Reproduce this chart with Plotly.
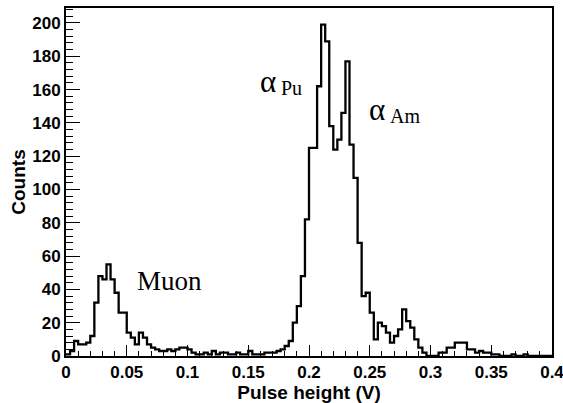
import numpy as np
import plotly.graph_objects as go

# Histogram binning: 120 bins over 0 - 0.4 V
x_min = 0.0
x_max = 0.4
n_bins = 120

# Counts per bin, left to right
counts = [
    1, 3, 9, 7, 7, 8, 12, 32, 48, 46,
    55, 46, 38, 26, 26, 14, 11, 7, 14, 11,
    7, 5, 4, 3, 3, 4, 3, 4, 5, 5,
    4, 2, 1, 1, 2, 1, 3, 1, 2, 2,
    1, 1, 2, 1, 1, 3, 1, 1, 1, 2,
    2, 2, 3, 4, 6, 9, 20, 30, 48, 82,
    125, 125, 162, 199, 189, 138, 124, 130, 146, 177,
    127, 107, 68, 36, 38, 26, 10, 20, 18, 14,
    8, 12, 16, 28, 21, 17, 10, 5, 2, 0,
    0, 0, 2, 2, 5, 5, 8, 8, 8, 4,
    4, 2, 3, 2, 2, 1, 1, 0, 0, 0,
    1, 0, 0, 1, 0, 0, 0, 0, 0, 0,
]

x_ticks = [0, 0.05, 0.1, 0.15, 0.2, 0.25, 0.3, 0.35, 0.4]
y_ticks = [0, 20, 40, 60, 80, 100, 120, 140, 160, 180, 200]

edges = np.linspace(x_min, x_max, n_bins + 1)
step_y = list(counts) + [counts[-1]]

fig = go.Figure()
fig.add_trace(go.Scatter(
    x=edges, y=step_y, mode="lines", line_shape="hv",
    line=dict(color="black", width=2.3), showlegend=False,
))

axis_font = dict(family="Liberation Sans, Arial", size=17, color="black", weight="bold")
title_font = dict(family="Liberation Sans, Arial", size=19, color="black", weight="bold")
serif = "Liberation Serif, Times New Roman"

fig.update_xaxes(
    range=[x_min, x_max], tickvals=x_ticks, ticktext=[f"{v:g}" for v in x_ticks],
    ticks="inside", ticklen=11, tickwidth=1, tickcolor="black",
    minor=dict(ticks="inside", ticklen=5, dtick=0.01, tick0=0, tickcolor="black", tickwidth=1),
    showline=True, linecolor="black", linewidth=2, mirror=True,
    showgrid=False, zeroline=False, tickfont=axis_font,
    automargin=False, ticklabeloverflow="allow",
    title=dict(text="Pulse height (V)", font=title_font, standoff=4),
)
fig.update_yaxes(
    range=[0, 209], tickvals=y_ticks,
    ticks="inside", ticklen=14, tickwidth=1, tickcolor="black",
    minor=dict(ticks="inside", ticklen=7, dtick=4, tick0=0, tickcolor="black", tickwidth=1),
    showline=True, linecolor="black", linewidth=2, mirror=True,
    showgrid=False, zeroline=False, tickfont=axis_font,
    automargin=False, ticklabeloverflow="allow",
    title=dict(text="Counts", font=title_font, standoff=2),
)

labels = [
    dict(text="Muon", x=0.0567, y=45, size=27),
    dict(text="α", x=0.1580, y=165, size=31),
    dict(text="Pu", x=0.1755, y=161, size=20),
    dict(text="α", x=0.2475, y=148, size=31),
    dict(text="Am", x=0.2650, y=144, size=20),
]
for lab in labels:
    fig.add_annotation(
        x=lab["x"], y=lab["y"], text=lab["text"], showarrow=False,
        xanchor="left", yanchor="middle",
        font=dict(family=serif, size=lab["size"], color="black"),
    )

fig.update_layout(
    width=563, height=403,
    margin=dict(l=66, r=11, t=8, b=47),
    paper_bgcolor="white", plot_bgcolor="white",
)

fig.write_html("out.html")
